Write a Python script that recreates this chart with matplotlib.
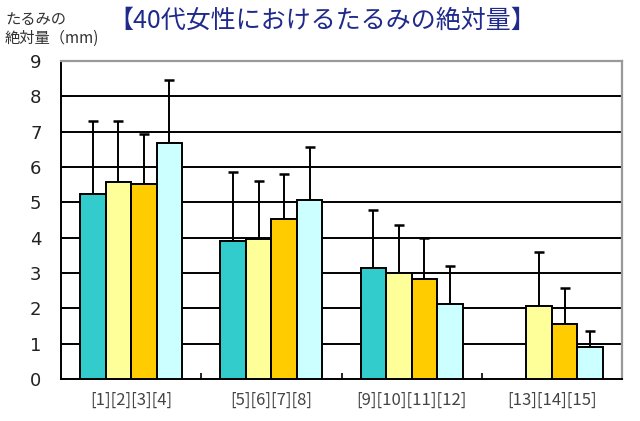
import matplotlib
matplotlib.use('Agg')
import matplotlib.pyplot as plt
import numpy as np

plt.rcParams['font.family'] = ['Noto Sans CJK JP', 'DejaVu Sans']

groups = ['[1][2][3][4]', '[5][6][7][8]', '[9][10][11][12]', '[13][14][15]']
# 4 series per group; group 4 has no first bar
means = [
    [5.23, 3.90, 3.14, np.nan],
    [5.58, 3.97, 2.99, 2.06],
    [5.53, 4.52, 2.84, 1.56],
    [6.67, 5.07, 2.12, 0.90],
]
tops = [
    [7.30, 5.85, 4.77, np.nan],
    [7.30, 5.59, 4.37, 3.60],
    [6.92, 5.80, 4.00, 2.58],
    [8.45, 6.57, 3.20, 1.35],
]
colors = ['#33CCCC', '#FFFF99', '#FFCC00', '#CCFFFF']

fig = plt.figure(figsize=(6.4, 4.21), dpi=100)
ax = fig.add_axes([0.0953, 0.0998, 0.8766, 0.7553])

x = np.arange(len(groups))
w = 0.182
for k in range(4):
    m = np.array(means[k])
    t = np.array(tops[k])
    pos = x + (k - 1.5) * w
    ok = ~np.isnan(m)
    ax.bar(pos[ok], m[ok], width=w, color=colors[k], edgecolor='black',
           linewidth=1.4, zorder=3)
    yerr = np.vstack([np.zeros(ok.sum()), (t - m)[ok]])
    ax.errorbar(pos[ok], m[ok], yerr=yerr, fmt='none', ecolor='black',
                elinewidth=1.4, capsize=3.5, capthick=1.8, zorder=2)

ax.set_xlim(-0.5, 3.5)
ax.set_ylim(0, 9)
ax.set_yticks(range(10))
ax.set_yticklabels([str(i) for i in range(10)], fontsize=13, color='#222222',
                   family='DejaVu Sans')
ax.set_xticks(x)
ax.set_xticklabels(groups, fontsize=12, color='#444444')
ax.tick_params(axis='x', length=0, pad=9)
ax.set_xticks([0.5, 1.5, 2.5], minor=True)
ax.tick_params(axis='x', which='minor', direction='in', length=4, width=1.2)
ax.tick_params(axis='y', direction='in', length=3, width=1.2, pad=14)

for yv in range(1, 9):
    ax.axhline(yv, color='black', linewidth=1.4, zorder=1)

ax.spines['left'].set_color('black')
ax.spines['left'].set_linewidth(1.4)
ax.spines['bottom'].set_color('black')
ax.spines['bottom'].set_linewidth(1.4)
ax.spines['top'].set_color('#999999')
ax.spines['top'].set_linewidth(1.6)
ax.spines['right'].set_color('#999999')
ax.spines['right'].set_linewidth(1.6)

fig.text(0.504, 0.950, '【40代女性におけるたるみの絶対量】', ha='center', va='center',
         fontsize=18, color='#1f2a8a')
fig.text(0.008, 0.975, 'たるみの\n絶対量（mm)', ha='left', va='top', fontsize=11,
         color='#333333', linespacing=1.15)

fig.savefig('out.png', dpi=100)
